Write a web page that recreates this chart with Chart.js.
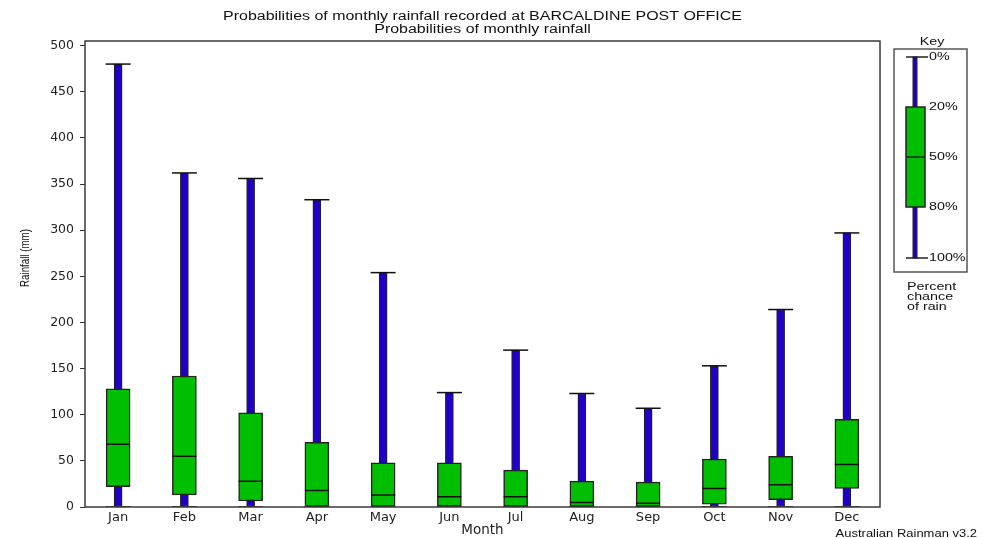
<!DOCTYPE html>
<html>
<head>
<meta charset="utf-8">
<script src="https://cdn.jsdelivr.net/npm/chart.js@4/dist/chart.umd.min.js"></script>
<style>
  html, body { margin: 0; padding: 0; background: #fff; }
  #wrap { width: 983px; height: 538px; }
</style>
</head>
<body>
<div id="wrap"><canvas id="rainChart" width="983" height="538"></canvas></div>
<script>
// monthly rainfall (mm) at each percent chance of rain
var months = ['Jan', 'Feb', 'Mar', 'Apr', 'May', 'Jun', 'Jul', 'Aug', 'Sep', 'Oct', 'Nov', 'Dec'];
var pct0   = [480, 362, 356, 333, 254, 124, 170, 123, 107, 153, 214, 297];
var pct20  = [128, 142, 102, 70, 48, 48, 40, 28, 27, 52, 55, 95];
var pct50  = [68, 55, 28, 18, 13, 11, 11, 5, 4, 20, 24, 46];
var pct80  = [22, 13, 6.5, 0.5, 0, 1, 0, 0, 0, 3, 8, 20];
var pct100 = [0, 0, 0, 0, 0, 0, 0, 0, 0, 0, 0, 0];
var yTicks = [0, 50, 100, 150, 200, 250, 300, 350, 400, 450, 500];
var titleLines = ['Probabilities of monthly rainfall recorded at BARCALDINE POST OFFICE', 'Probabilities of monthly rainfall'];
var keyLabels = ['0%', '20%', '50%', '80%', '100%'];

var BLUE = '#1f00c4';
var GREEN = '#00bf00';
var FONT = "'DejaVu Sans', Verdana, sans-serif";
var ARIAL = "'Liberation Sans', Arial, sans-serif";

// text squeezed/stretched sideways like the original bitmap
function wideText(ctx, text, x, y, sx, align) {
    ctx.save();
    ctx.translate(x, y);
    ctx.scale(sx, 1);
    ctx.textAlign = align;
    ctx.fillText(text, 0, 0);
    ctx.restore();
}

// frame, titles, key and footer
var extras = {
    id: 'extras',
    afterDraw: function (chart) {
        var ctx = chart.ctx;
        var a = chart.chartArea;
        var cx = (a.left + a.right) / 2;
        ctx.save();
        ctx.strokeStyle = '#3a3a3a';
        ctx.lineWidth = 1.5;
        ctx.strokeRect(a.left, a.top, a.right - a.left, a.bottom - a.top);

        ctx.fillStyle = '#111';
        ctx.textBaseline = 'middle';
        ctx.font = '12px ' + ARIAL;
        wideText(ctx, titleLines[0], cx, 16.5, 1.33, 'center');
        wideText(ctx, titleLines[1], cx, 29.5, 1.33, 'center');

        ctx.save();
        ctx.translate(25, 258);
        ctx.rotate(-Math.PI / 2);
        ctx.font = '13px ' + ARIAL;
        wideText(ctx, 'Rainfall (mm)', 0, 0, 0.75, 'center');
        ctx.restore();

        // key
        ctx.strokeStyle = '#555';
        ctx.lineWidth = 1.5;
        ctx.strokeRect(894, 49, 73, 223);
        ctx.font = '11px ' + ARIAL;
        wideText(ctx, 'Key', 932, 42, 1.3, 'center');

        ctx.fillStyle = BLUE;
        ctx.fillRect(913, 57, 4, 201);
        ctx.strokeStyle = '#222';
        ctx.lineWidth = 1;
        ctx.strokeRect(913, 57, 4, 201);
        ctx.fillStyle = GREEN;
        ctx.fillRect(906, 107, 19, 100);
        ctx.lineWidth = 1.5;
        ctx.strokeRect(906, 107, 19, 100);
        ctx.beginPath();
        ctx.moveTo(906, 157); ctx.lineTo(925, 157);
        ctx.moveTo(906, 57); ctx.lineTo(928, 57);
        ctx.moveTo(906, 258); ctx.lineTo(928, 258);
        ctx.stroke();

        ctx.fillStyle = '#111';
        var keyY = [57, 107, 157, 207, 258];
        keyLabels.forEach(function (t, i) { wideText(ctx, t, 929, keyY[i], 1.3, 'left'); });
        wideText(ctx, 'Percent', 907, 287, 1.3, 'left');
        wideText(ctx, 'chance', 907, 297, 1.3, 'left');
        wideText(ctx, 'of rain', 907, 307, 1.3, 'left');

        ctx.font = '11px ' + ARIAL;
        wideText(ctx, 'Australian Rainman v3.2', 977, 534, 1.18, 'right');
        ctx.restore();
    }
};

var rainChart = new Chart(document.getElementById('rainChart'), {
    type: 'bar',
    data: {
        labels: months,
        datasets: [{
            label: 'range',
            data: months.map(function (m, i) { return [pct100[i], pct0[i]]; }),
            backgroundColor: BLUE,
            borderColor: '#222',
            borderWidth: 1,
            borderSkipped: false,
            barThickness: 8,
            grouped: false,
            order: 5
        }, {
            label: '20-80%',
            data: months.map(function (m, i) { return [pct80[i], pct20[i]]; }),
            backgroundColor: GREEN,
            borderColor: '#222',
            borderWidth: 1.5,
            borderSkipped: false,
            barThickness: 24,
            grouped: false,
            order: 4
        }, {
            type: 'line',
            label: 'median',
            data: pct50,
            showLine: false,
            pointStyle: 'line',
            pointRadius: 12,
            pointBorderWidth: 1.5,
            borderColor: '#111',
            order: 1
        }, {
            type: 'line',
            label: 'max',
            data: pct0,
            showLine: false,
            pointStyle: 'line',
            pointRadius: 12.5,
            pointBorderWidth: 1.5,
            borderColor: '#111',
            order: 1
        }, {
            type: 'line',
            label: 'min',
            data: pct100,
            showLine: false,
            pointStyle: 'line',
            pointRadius: 12.5,
            pointBorderWidth: 1.5,
            borderColor: '#111',
            order: 1
        }]
    },
    options: {
        responsive: false,
        animation: false,
        layout: { padding: { top: 41, right: 103, bottom: 0, left: 0 } },
        plugins: {
            legend: { display: false },
            tooltip: { enabled: false },
            title: { display: false }
        },
        scales: {
            x: {
                grid: { display: false, drawTicks: false },
                border: { display: false },
                ticks: { color: '#222', font: { family: FONT, size: 13 }, padding: 3 },
                title: {
                    display: true,
                    text: 'Month',
                    color: '#222',
                    font: { family: FONT, size: 13.5 },
                    padding: { top: 0, bottom: -1 }
                },
                afterFit: function (scale) { scale.height = 31; }
            },
            y: {
                min: 0,
                max: 505,
                grid: { drawOnChartArea: false, drawTicks: true, tickLength: 5, color: '#333' },
                border: { display: false },
                afterBuildTicks: function (scale) {
                    scale.ticks = yTicks.map(function (v) { return { value: v }; });
                },
                ticks: { color: '#222', font: { family: FONT, size: 12.5 }, padding: 6 },
                afterFit: function (scale) { scale.width = 85; }
            }
        }
    },
    plugins: [extras]
});
</script>
</body>
</html>
